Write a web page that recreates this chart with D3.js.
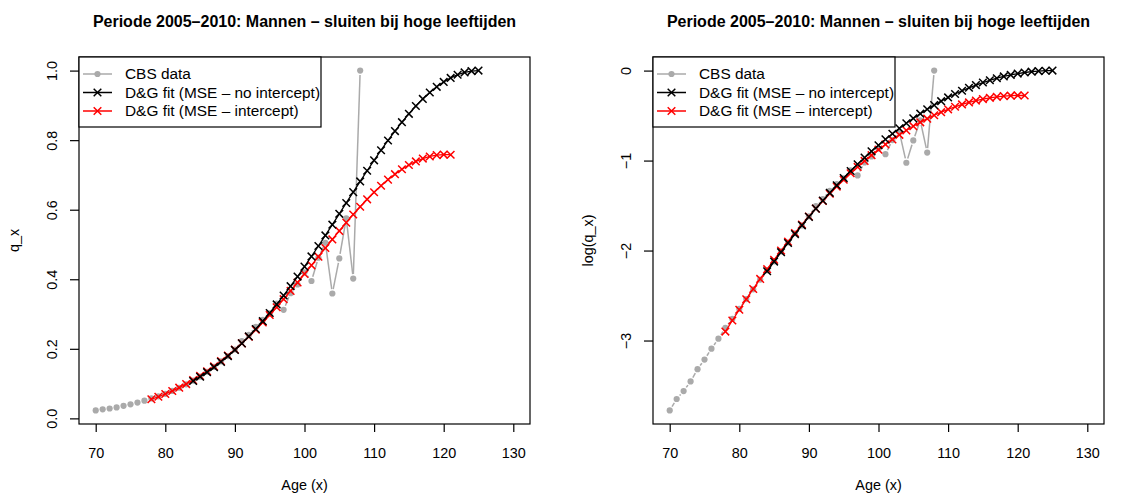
<!DOCTYPE html>
<html>
<head>
<meta charset="utf-8">
<script src="https://cdn.jsdelivr.net/npm/d3@7"></script>
<style>
  body { margin: 0; background: #fff; }
  svg text { font-family: "Liberation Sans", Arial, Helvetica, sans-serif; fill: #000; }
</style>
</head>
<body>
<div id="chart"></div>
<script>
// Data
const cbsAge = [70, 71, 72, 73, 74, 75, 76, 77, 78, 79, 80, 81, 82, 83, 84, 85, 86, 87, 88, 89,
  90, 91, 92, 93, 94, 95, 96, 97, 98, 99, 100, 101, 102, 103, 104, 105, 106, 107, 108];
const cbsQ = [0.0229, 0.0260, 0.0284, 0.0316, 0.0362, 0.0403, 0.0455, 0.0508, 0.0573, 0.0633,
  0.0707, 0.0789, 0.0880, 0.0980, 0.1086, 0.1200, 0.1340, 0.1480, 0.1640, 0.1790,
  0.1980, 0.2220, 0.2400, 0.2630, 0.2830, 0.3020, 0.3300, 0.3120, 0.3600, 0.3850,
  0.4200, 0.3950, 0.4620, 0.5050, 0.3590, 0.4600, 0.5750, 0.4020, 1.0000];

// D&G fit, MSE without intercept
const noIntAge = [84, 85, 86, 87, 88, 89, 90, 91, 92, 93, 94, 95, 96, 97, 98, 99, 100, 101, 102, 103,
  104, 105, 106, 107, 108, 109, 110, 111, 112, 113, 114, 115, 116, 117, 118, 119, 120, 121, 122, 123, 124, 125];
const noIntQ = [0.1075, 0.1197, 0.1329, 0.1472, 0.1625, 0.1791, 0.1968, 0.2157, 0.2357, 0.2570,
  0.2794, 0.3029, 0.3276, 0.3533, 0.3801, 0.4077, 0.4363, 0.4656, 0.4956, 0.5261,
  0.5570, 0.5881, 0.6194, 0.6506, 0.6814, 0.7120, 0.7419, 0.7710, 0.7991, 0.8261,
  0.8516, 0.8757, 0.8981, 0.9186, 0.9371, 0.9533, 0.9674, 0.9790, 0.9881, 0.9947, 0.9987, 1.0000];

// D&G fit, MSE with intercept
const intAge = [78, 79, 80, 81, 82, 83, 84, 85, 86, 87, 88, 89, 90, 91, 92, 93, 94, 95, 96, 97,
  98, 99, 100, 101, 102, 103, 104, 105, 106, 107, 108, 109, 110, 111, 112, 113, 114, 115, 116, 117,
  118, 119, 120, 121];
const intQ = [0.0550, 0.0622, 0.0701, 0.0788, 0.0883, 0.0987, 0.1100, 0.1221, 0.1353, 0.1494,
  0.1645, 0.1806, 0.1976, 0.2157, 0.2347, 0.2547, 0.2756, 0.2972, 0.3196, 0.3428,
  0.3665, 0.3907, 0.4152, 0.4401, 0.4650, 0.4899, 0.5146, 0.5390, 0.5629, 0.5861,
  0.6086, 0.6299, 0.6501, 0.6690, 0.6865, 0.7022, 0.7164, 0.7285, 0.7388, 0.7470,
  0.7531, 0.7569, 0.7586, 0.7581];

const xTicks = [70, 80, 90, 100, 110, 120, 130];
const yTicksLin = [0, 0.2, 0.4, 0.6, 0.8, 1.0];
const yTicksLog = [-3, -2, -1, 0];
const legendLabels = ['CBS data', 'D&G fit (MSE \u2013 no intercept)', 'D&G fit (MSE \u2013 intercept)'];
const title = 'Periode 2005\u20132010: Mannen \u2013 sluiten bij hoge leeftijden';

const W = 1123;
const H = 495;
const fs = 14.4;
const gray = '#aaaaaa';

const svg = d3.select('#chart').append('svg')
  .attr('width', W)
  .attr('height', H)
  .attr('viewBox', [0, 0, W, H]);

// R style: extend data range by 4%
function pad(ext) {
  const r = ext[1] - ext[0];
  return [ext[0] - 0.04 * r, ext[1] + 0.04 * r];
}

function drawPanel(left, right, tf, yTicks, yFmt, ylab) {
  const top = 57;
  const bottom = 424;
  const allY = cbsQ.concat(noIntQ, intQ).map(tf);

  const x = d3.scaleLinear(pad([70, 130]), [left, right]);
  const y = d3.scaleLinear(pad(d3.extent(allY)), [bottom, top]);

  const g = svg.append('g');

  // title
  g.append('text')
    .attr('x', (left + right) / 2)
    .attr('y', 26.5)
    .attr('text-anchor', 'middle')
    .style('font-weight', 'bold')
    .style('font-size', '16px')
    .text(title);

  // x axis
  const xa = g.append('g')
    .attr('transform', `translate(0, ${bottom})`)
    .call(d3.axisBottom(x).tickValues(xTicks).tickSize(8).tickFormat(d3.format('d')));
  xa.select('.domain').remove();
  xa.selectAll('line').attr('stroke', '#000').attr('stroke-width', 1.2);
  xa.selectAll('text')
    .attr('y', 33.5)
    .attr('dy', null)
    .style('font-size', `${fs}px`)
    .style('font-family', '"Liberation Sans", Arial, sans-serif');

  // y axis
  const ya = g.append('g')
    .attr('transform', `translate(${left}, 0)`)
    .call(d3.axisLeft(y).tickValues(yTicks).tickSize(9).tickFormat(yFmt));
  ya.select('.domain').remove();
  ya.selectAll('line').attr('stroke', '#000').attr('stroke-width', 1.2);
  ya.selectAll('text')
    .attr('transform', 'rotate(-90)')
    .attr('x', 0)
    .attr('y', -22.5)
    .attr('dy', null)
    .attr('text-anchor', 'middle')
    .style('font-size', `${fs}px`)
    .style('font-family', '"Liberation Sans", Arial, sans-serif');

  // axis names
  g.append('text')
    .attr('x', (left + right) / 2)
    .attr('y', 490)
    .attr('text-anchor', 'middle')
    .style('font-size', `${fs}px`)
    .text('Age (x)');

  g.append('text')
    .attr('text-anchor', 'middle')
    .attr('transform', `translate(${left - 60}, ${(top + bottom) / 2})rotate(-90)`)
    .style('font-size', `${fs}px`)
    .text(ylab);

  // CBS data: points with gapped lines (type = "b")
  const pts = cbsAge.map((a, i) => [x(a), y(tf(cbsQ[i]))]);
  const gap = 4.5;
  const segs = [];
  for (let i = 0; i < pts.length - 1; i++) {
    const [x1, y1] = pts[i];
    const [x2, y2] = pts[i + 1];
    const len = Math.hypot(x2 - x1, y2 - y1);
    if (len > 2 * gap) {
      const ux = (x2 - x1) / len;
      const uy = (y2 - y1) / len;
      segs.push([x1 + ux * gap, y1 + uy * gap, x2 - ux * gap, y2 - uy * gap]);
    }
  }
  g.append('g')
    .selectAll('line')
    .data(segs)
    .join('line')
    .attr('x1', (d) => d[0])
    .attr('y1', (d) => d[1])
    .attr('x2', (d) => d[2])
    .attr('y2', (d) => d[3])
    .attr('stroke', gray)
    .attr('stroke-width', 1.5);

  g.append('g')
    .selectAll('circle')
    .data(pts)
    .join('circle')
    .attr('cx', (d) => d[0])
    .attr('cy', (d) => d[1])
    .attr('r', 3.1)
    .attr('fill', gray);

  // fitted curves
  const line = d3.line().x((d) => x(d[0])).y((d) => y(tf(d[1])));
  const cross = (sel, col) => {
    sel.append('path')
      .attr('d', (d) => {
        const cx = x(d[0]);
        const cy = y(tf(d[1]));
        const s = 3.8;
        return `M${cx - s},${cy - s}L${cx + s},${cy + s}M${cx - s},${cy + s}L${cx + s},${cy - s}`;
      })
      .attr('stroke', col)
      .attr('stroke-width', 1.5)
      .attr('fill', 'none');
  };

  const series = [
    { age: intAge, q: intQ, col: '#ff0000' },
    { age: noIntAge, q: noIntQ, col: '#000000' },
  ];
  series.forEach((s) => {
    const d = s.age.map((a, i) => [a, s.q[i]]);
    g.append('path')
      .datum(d)
      .attr('d', line)
      .attr('fill', 'none')
      .attr('stroke', s.col)
      .attr('stroke-width', 1.3);
    g.append('g')
      .selectAll('g')
      .data(d)
      .join('g')
      .call(cross, s.col);
  });

  // plot box
  g.append('rect')
    .attr('x', left)
    .attr('y', top)
    .attr('width', right - left)
    .attr('height', bottom - top)
    .attr('fill', 'none')
    .attr('stroke', '#000')
    .attr('stroke-width', 1.2);

  // legend
  const lg = g.append('g').attr('transform', `translate(${left}, ${top})`);
  lg.append('rect')
    .attr('width', 242)
    .attr('height', 70)
    .attr('fill', '#fff')
    .attr('stroke', '#000')
    .attr('stroke-width', 1.2);
  const cols = [gray, '#000000', '#ff0000'];
  legendLabels.forEach((lab, i) => {
    const ly = 17 + i * 18.5;
    lg.append('line')
      .attr('x1', 4).attr('x2', 33)
      .attr('y1', ly).attr('y2', ly)
      .attr('stroke', cols[i])
      .attr('stroke-width', 1.5);
    if (i === 0) {
      lg.append('circle').attr('cx', 18.5).attr('cy', ly).attr('r', 3.1).attr('fill', gray);
    } else {
      const s = 3.8;
      lg.append('path')
        .attr('d', `M${18.5 - s},${ly - s}L${18.5 + s},${ly + s}M${18.5 - s},${ly + s}L${18.5 + s},${ly - s}`)
        .attr('stroke', cols[i])
        .attr('stroke-width', 1.5);
    }
    lg.append('text')
      .attr('x', 46)
      .attr('y', ly + 5.4)
      .style('font-size', '15.4px')
      .text(lab);
  });
}

drawPanel(79, 530, (d) => d, yTicksLin, d3.format('.1f'), 'q_x');
drawPanel(653, 1104, (d) => Math.log(d), yTicksLog, (d) => (d < 0 ? `\u2212${-d}` : `${d}`), 'log(q_x)');
</script>
</body>
</html>
